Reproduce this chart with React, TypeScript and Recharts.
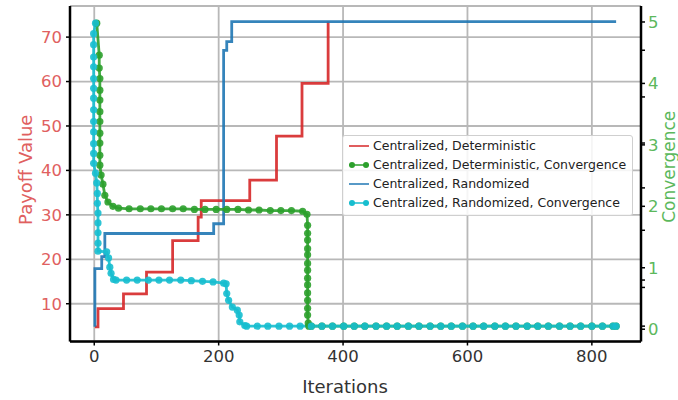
import React from 'react';
import { LineChart, Line, XAxis, YAxis, CartesianGrid, Legend, Label } from 'recharts';

const fontFamily = '"DejaVu Sans", sans-serif';

// iteration ticks and axis ticks
const xTicks = [0, 200, 400, 600, 800];
const payoffTicks = [10, 20, 30, 40, 50, 60, 70];
// integer ticks carry labels, the odd ones are bare tick marks seen on the right spine
const convTicks = [0, 0.05, 0.68, 0.8, 1, 1.61, 2, 2.3, 3, 3.03, 3.78, 4, 4.54, 5];

// Centralized, Deterministic (payoff, step line)
const detPayoff = [
  { x: 1, y: 4.8 }, { x: 6, y: 8.9 }, { x: 47, y: 12.2 }, { x: 84, y: 17.1 },
  { x: 126, y: 24.2 }, { x: 167, y: 29.5 }, { x: 172, y: 33.2 }, { x: 250, y: 37.8 },
  { x: 293, y: 47.7 }, { x: 334, y: 59.6 }, { x: 376, y: 73.5 },
];

// Centralized, Randomized (payoff, step line)
const randPayoff = [
  { x: 1, y: 4.8 }, { x: 1, y: 17.9 }, { x: 12, y: 20.6 }, { x: 17, y: 25.8 },
  { x: 192, y: 28 }, { x: 208, y: 67 }, { x: 213, y: 69 }, { x: 221, y: 73.5 },
  { x: 839, y: 73.5 },
];

// flat tail shared by both convergence curves
const tailIters = [
  245, 262, 279, 297, 314, 331, 349, 366, 383, 401, 418, 435, 453, 470, 487, 505, 522, 540,
  557, 574, 592, 609, 626, 644, 661, 678, 696, 713, 730, 748, 765, 782, 800, 817, 834, 839,
];

// Centralized, Deterministic, Convergence
const detConv = [
  { x: 4, y: 4.98 }, { x: 8, y: 4.46 }, { x: 8, y: 4.25 }, { x: 9, y: 4.08 }, { x: 9, y: 3.89 },
  { x: 9, y: 3.73 }, { x: 9, y: 3.54 }, { x: 9, y: 3.38 }, { x: 9, y: 3.19 }, { x: 9, y: 3.03 },
  { x: 9, y: 2.83 }, { x: 9, y: 2.67 }, { x: 11, y: 2.51 }, { x: 14, y: 2.36 }, { x: 17, y: 2.18 },
  { x: 22, y: 2.07 }, { x: 30, y: 2.0 },
  { x: 39, y: 1.97 }, { x: 56, y: 1.96 }, { x: 74, y: 1.96 }, { x: 91, y: 1.96 }, { x: 108, y: 1.96 },
  { x: 126, y: 1.96 }, { x: 143, y: 1.96 }, { x: 161, y: 1.95 }, { x: 178, y: 1.95 }, { x: 196, y: 1.95 },
  { x: 213, y: 1.95 }, { x: 231, y: 1.95 }, { x: 248, y: 1.94 }, { x: 265, y: 1.94 }, { x: 283, y: 1.93 },
  { x: 300, y: 1.93 }, { x: 317, y: 1.93 }, { x: 335, y: 1.92 },
  { x: 342, y: 1.87 }, { x: 343, y: 1.69 }, { x: 343, y: 1.56 }, { x: 343, y: 1.45 }, { x: 343, y: 1.31 },
  { x: 343, y: 1.21 }, { x: 343, y: 1.07 }, { x: 343, y: 0.96 }, { x: 343, y: 0.83 }, { x: 343, y: 0.72 },
  { x: 343, y: 0.59 }, { x: 343, y: 0.47 }, { x: 343, y: 0.34 }, { x: 343, y: 0.23 }, { x: 344, y: 0.1 },
  { x: 345, y: 0.05 },
  ...tailIters.filter((t) => t > 345).map((t) => ({ x: t, y: 0.05 })),
];

// Centralized, Randomized, Convergence
const randConv = [
  { x: 2, y: 4.98 },
  { x: -1, y: 4.81 }, { x: -1, y: 4.63 }, { x: -1, y: 4.43 }, { x: -1, y: 4.27 }, { x: -1, y: 4.08 },
  { x: -1, y: 3.92 }, { x: -1, y: 3.76 }, { x: -1, y: 3.57 }, { x: -1, y: 3.38 }, { x: -1, y: 3.21 },
  { x: -1, y: 3.02 }, { x: -1, y: 2.86 }, { x: -1, y: 2.7 },
  { x: 2, y: 2.54 }, { x: 4, y: 2.38 }, { x: 5, y: 2.21 }, { x: 5, y: 2.05 }, { x: 6, y: 1.89 },
  { x: 6, y: 1.73 }, { x: 6, y: 1.57 }, { x: 6, y: 1.4 }, { x: 6, y: 1.27 },
  { x: 20, y: 1.26 }, { x: 23, y: 1.16 }, { x: 25, y: 1.01 }, { x: 27, y: 0.91 }, { x: 31, y: 0.81 },
  { x: 35, y: 0.8 }, { x: 52, y: 0.8 }, { x: 69, y: 0.8 }, { x: 87, y: 0.8 }, { x: 104, y: 0.8 },
  { x: 121, y: 0.8 }, { x: 139, y: 0.8 }, { x: 156, y: 0.79 }, { x: 174, y: 0.78 }, { x: 191, y: 0.77 },
  { x: 208, y: 0.75 },
  { x: 212, y: 0.74 }, { x: 213, y: 0.58 }, { x: 216, y: 0.47 }, { x: 222, y: 0.36 }, { x: 230, y: 0.31 },
  { x: 233, y: 0.23 }, { x: 234, y: 0.12 }, { x: 242, y: 0.06 },
  ...tailIters.map((t) => ({ x: t, y: 0.05 })),
];

const RED = '#d62728';
const BLUE = '#1f77b4';
const GREEN = '#2ca02c';
const CYAN = '#17becf';

const legendItems = [
  { name: 'Centralized, Deterministic', color: RED, marker: false },
  { name: 'Centralized, Deterministic, Convergence', color: GREEN, marker: true },
  { name: 'Centralized, Randomized', color: BLUE, marker: false },
  { name: 'Centralized, Randomized, Convergence', color: CYAN, marker: true },
];

const renderLegend = () => (
  <div
    style={{
      background: 'rgba(255,255,255,0.85)',
      border: '1px solid #cfcfcf',
      borderRadius: 3,
      padding: '0 6px 3px 6px',
      fontFamily,
      fontSize: 12.5,
      color: '#222',
    }}
  >
    {legendItems.map((it) => (
      <div key={it.name} style={{ display: 'flex', alignItems: 'center', height: 19, whiteSpace: 'nowrap' }}>
        <svg width={20} height={10} style={{ flex: 'none' }}>
          <line x1={0} y1={5} x2={20} y2={5} stroke={it.color} strokeWidth={2} strokeOpacity={0.75} />
          {it.marker && <circle cx={3} cy={5} r={3} fill={it.color} />}
          {it.marker && <circle cx={17} cy={5} r={3} fill={it.color} />}
        </svg>
        <span style={{ marginLeft: 4 }}>{it.name}</span>
      </div>
    ))}
  </div>
);

const LeftTitle = (props: any) => {
  const { x, y, height } = props.viewBox;
  const cx = x + 25;
  const cy = y + height / 2 - 4;
  return (
    <text x={cx} y={cy} transform={`rotate(-90 ${cx} ${cy})`} textAnchor="middle"
      dominantBaseline="central" fill="#e06060" fontSize={18} fontFamily={fontFamily}>
      Payoff Value
    </text>
  );
};

const RightTitle = (props: any) => {
  const { x, y, height } = props.viewBox;
  const cx = x + 28;
  const cy = y + height / 2 - 7;
  return (
    <text x={cx} y={cy} transform={`rotate(-90 ${cx} ${cy})`} textAnchor="middle"
      dominantBaseline="central" fill="#5cb85c" fontSize={17} fontFamily={fontFamily}>
      Convergence
    </text>
  );
};

const BottomTitle = (props: any) => {
  const { x, y } = props.viewBox;
  return (
    <text x={x + 275} y={y + 44.5} textAnchor="middle" dominantBaseline="central"
      fill="#333" fontSize={18} fontFamily={fontFamily}>
      Iterations
    </text>
  );
};

const spine = { stroke: '#000', strokeWidth: 2.5 };
const tickMark = { stroke: '#000', strokeWidth: 1.5 };

export default function App() {
  return (
    <div style={{ width: 678, height: 400, background: '#fff' }}>
      <style>{'body{margin:0}'}</style>
      <LineChart width={678} height={400} margin={{ top: 6, right: 0, bottom: 0, left: 0 }}>
        <CartesianGrid yAxisId="left" stroke="#b8b8b8" strokeWidth={1.8} />
        <XAxis
          dataKey="x"
          type="number"
          domain={[-39, 879]}
          ticks={xTicks}
          interval={0}
          allowDataOverflow
          height={58.5}
          tickSize={4}
          tickMargin={4.5}
          tick={{ fill: '#333', fontSize: 16.5, fontFamily }}
          axisLine={spine}
          tickLine={tickMark}
        >
          <Label content={BottomTitle} />
        </XAxis>
        <XAxis
          xAxisId="top"
          orientation="top"
          dataKey="x"
          type="number"
          domain={[-39, 879]}
          height={0}
          tick={false}
          tickLine={false}
          axisLine={spine}
        />
        <YAxis
          yAxisId="left"
          type="number"
          domain={[1.5, 77]}
          ticks={payoffTicks}
          interval={0}
          allowDataOverflow
          width={70}
          tickSize={4}
          tickMargin={4}
          tick={{ fill: '#e06060', fontSize: 16.5, fontFamily }}
          axisLine={spine}
          tickLine={tickMark}
        >
          <Label content={LeftTitle} />
        </YAxis>
        <YAxis
          yAxisId="right"
          orientation="right"
          type="number"
          domain={[-0.2, 5.26]}
          ticks={convTicks}
          interval={0}
          allowDataOverflow
          width={37}
          tickSize={4}
          tickMargin={3}
          tickFormatter={(v: number) => (Number.isInteger(v) ? String(v) : '')}
          tick={{ fill: '#5cb85c', fontSize: 16.5, fontFamily }}
          axisLine={spine}
          tickLine={tickMark}
        >
          <Label content={RightTitle} />
        </YAxis>
        <Line
          yAxisId="left"
          data={detPayoff}
          dataKey="y"
          type="stepAfter"
          stroke={RED}
          strokeWidth={2.8}
          strokeOpacity={0.9}
          dot={false}
          isAnimationActive={false}
        />
        <Line
          yAxisId="left"
          data={randPayoff}
          dataKey="y"
          type="stepAfter"
          stroke={BLUE}
          strokeWidth={2.8}
          strokeOpacity={0.9}
          dot={false}
          isAnimationActive={false}
        />
        <Line
          yAxisId="right"
          data={detConv}
          dataKey="y"
          type="linear"
          stroke={GREEN}
          strokeWidth={2.8}
          strokeOpacity={0.9}
          dot={{ r: 3.6, fill: GREEN, stroke: 'none', fillOpacity: 0.9 }}
          isAnimationActive={false}
        />
        <Line
          yAxisId="right"
          data={randConv}
          dataKey="y"
          type="linear"
          stroke={CYAN}
          strokeWidth={2.8}
          strokeOpacity={0.9}
          dot={{ r: 3.6, fill: CYAN, stroke: 'none', fillOpacity: 0.9 }}
          isAnimationActive={false}
        />
        <Legend
          layout="vertical"
          verticalAlign="middle"
          align="center"
          content={renderLegend}
          wrapperStyle={{ position: 'absolute', left: 342, top: 135, width: 'auto' }}
        />
      </LineChart>
    </div>
  );
}
